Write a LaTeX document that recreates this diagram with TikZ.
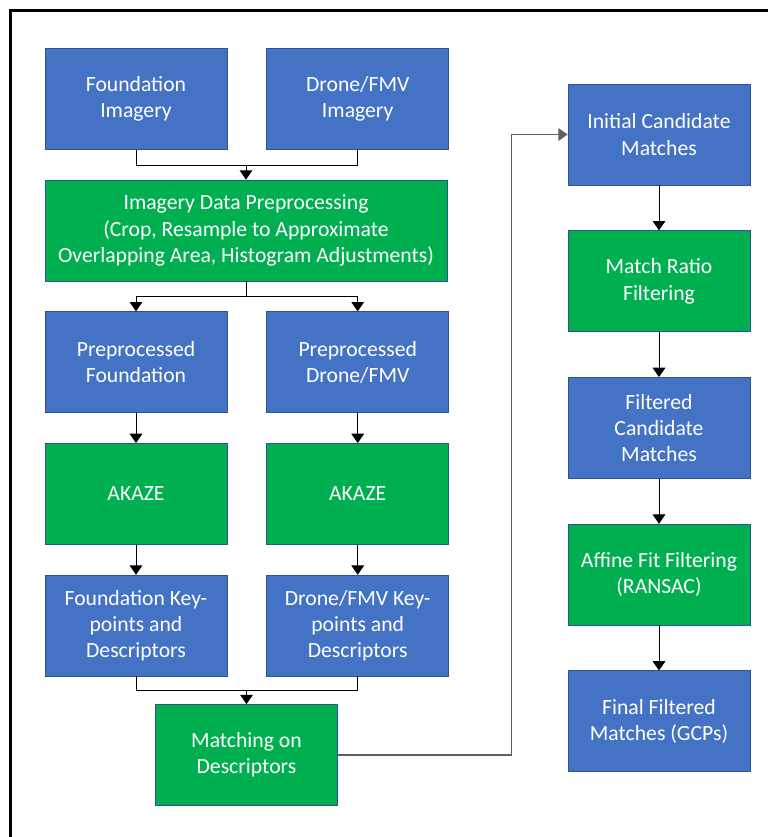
\documentclass[tikz,border=0pt]{standalone}
\usepackage{fontspec}
\setmainfont{Carlito}
\usepackage{xcolor}
\usetikzlibrary{positioning, arrows.meta, calc}

\definecolor{boxblue}{HTML}{4472C4}
\definecolor{boxgreen}{HTML}{00B050}
\definecolor{boxline}{HTML}{2F528F}

\tikzset{
  stage/.style={rectangle, draw=boxline, line width=0.6pt, text=white,
    minimum width=5.46cm, minimum height=3.03cm, align=center,
    font=\fontsize{18.5}{22.5}\selectfont},
  datastage/.style={stage, fill=boxblue},
  procstage/.style={stage, fill=boxgreen},
  flow/.style={line width=0.8pt, draw=black},
  flowarr/.style={flow, -{Triangle[length=0.28cm, width=0.38cm]}}
}

\begin{document}
\begin{tikzpicture}[x=0.03cm, y=-0.03cm]
  \useasboundingbox (0,0) rectangle (768,837);
  \draw[line width=2.6pt] (10.5,837) -- (10.5,10.5) -- (768,10.5);

  % left column
  \node[datastage] (found) at (136,99) {Foundation\\Imagery};
  \node[datastage, right=1.17cm of found] (drone) {Drone/FMV\\Imagery};
  \node[procstage, minimum width=12.06cm] (prep) at (246,230.5)
    {Imagery Data Preprocessing\\(Crop, Resample to Approximate\\Overlapping Area, Histogram Adjustments)};
  \node[datastage, below=0.9cm of found |- prep.south] (pfound) {Preprocessed\\Foundation};
  \node[datastage, below=0.9cm of drone |- prep.south] (pdrone) {Preprocessed\\Drone/FMV};
  \node[procstage, below=0.9cm of pfound] (akl) {AKAZE};
  \node[procstage, below=0.9cm of pdrone] (akr) {AKAZE};
  \node[datastage, below=0.9cm of akl] (kfound) {Foundation Key-\\points and\\Descriptors};
  \node[datastage, below=0.9cm of akr] (kdrone) {Drone/FMV Key-\\points and\\Descriptors};
  \node[procstage] (match) at (246.5,755) {Matching on\\Descriptors};

  % right column
  \node[datastage] (init) at (659,134.5) {Initial Candidate\\Matches};
  \node[procstage, below=1.35cm of init] (ratio) {Match Ratio\\Filtering};
  \node[datastage, below=1.35cm of ratio] (filt) {Filtered\\Candidate\\Matches};
  \node[procstage, below=1.35cm of filt] (affine) {Affine Fit Filtering\\(RANSAC)};
  \node[datastage, below=1.35cm of affine] (final) {Final Filtered\\Matches (GCPs)};

  \coordinate (j1) at (246,165);
  \coordinate (j2) at (246,296);
  \coordinate (j3) at (246.5,690);

  \draw[flow] (found.south) |- (j1);
  \draw[flow] (drone.south) |- (j1);
  \draw[flowarr] (j1) -- (prep.north);
  \draw[flow] (prep.south) -- (j2);
  \draw[flowarr] (j2) -| (pfound.north);
  \draw[flowarr] (j2) -| (pdrone.north);
  \draw[flowarr] (pfound) -- (akl);
  \draw[flowarr] (pdrone) -- (akr);
  \draw[flowarr] (akl) -- (kfound);
  \draw[flowarr] (akr) -- (kdrone);
  \draw[flow] (kfound.south) |- (j3);
  \draw[flow] (kdrone.south) |- (j3);
  \draw[flowarr] (j3) -- (match.north);
  \draw[flowarr, draw=gray!75!black, line width=1.1pt] (match.east) -| ([xshift=-1.68cm]init.west) -- (init.west);
  \draw[flowarr] (init) -- (ratio);
  \draw[flowarr] (ratio) -- (filt);
  \draw[flowarr] (filt) -- (affine);
  \draw[flowarr] (affine) -- (final);
\end{tikzpicture}
\end{document}
